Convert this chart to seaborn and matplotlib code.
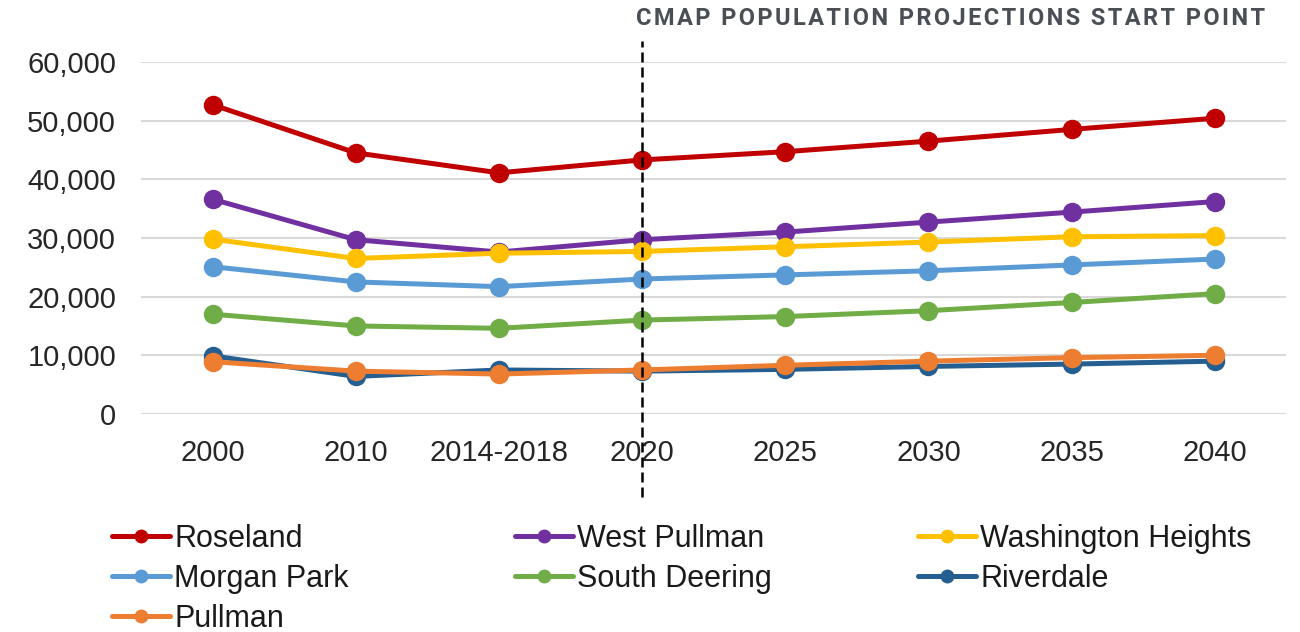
import pandas as pd
import matplotlib.pyplot as plt
import seaborn as sns

# Datos (población por área comunitaria)
years = ['2000', '2010', '2014-2018', '2020', '2025', '2030', '2035', '2040']
roseland = [52700, 44500, 41100, 43300, 44700, 46500, 48500, 50400]
west_pullman = [36600, 29700, 27600, 29700, 31000, 32700, 34400, 36200]
washington_heights = [29800, 26500, 27400, 27700, 28500, 29300, 30200, 30400]
morgan_park = [25100, 22500, 21700, 23000, 23700, 24400, 25400, 26400]
south_deering = [17000, 15000, 14600, 16000, 16600, 17600, 19000, 20500]
riverdale = [9900, 6400, 7500, 7300, 7600, 8100, 8500, 9000]
pullman = [8900, 7300, 6800, 7500, 8300, 9000, 9600, 10000]

areas = ['Roseland', 'West Pullman', 'Washington Heights', 'Morgan Park',
         'South Deering', 'Riverdale', 'Pullman']
series = [roseland, west_pullman, washington_heights, morgan_park,
          south_deering, riverdale, pullman]
colores = ['#C00000', '#7030A0', '#FFC000', '#5B9BD5', '#70AD47', '#255E91', '#ED7D31']

# Tabla larga para seaborn
df = pd.DataFrame({
    'Año': years * len(areas),
    'Población': [v for s in series for v in s],
    'Área': [a for a in areas for _ in years],
})

sns.set_style('white')
plt.rcParams['font.family'] = ['Liberation Sans', 'DejaVu Sans']

fig = plt.figure(figsize=(13, 6.32), dpi=100)
ax = fig.add_axes([0.1085, 0.345, 0.881, 0.557])

# Líneas horizontales de la cuadrícula
ax.yaxis.grid(True, color='#D9D9D9', linewidth=1.5)
ax.set_axisbelow(True)

sns.lineplot(data=df, x='Año', y='Población', hue='Área', hue_order=areas,
             palette=colores, marker='o', markersize=14, markeredgewidth=0,
             linewidth=3.6, sort=False, ax=ax, legend=False)

ax.set_xlim(-0.5, len(years) - 0.5)
ax.set_ylim(0, 60000)
ax.set_yticks(range(0, 60001, 10000))
ax.yaxis.set_major_formatter(plt.FuncFormatter(lambda v, p: f'{int(v):,}'))
ax.tick_params(axis='both', labelsize=21, labelcolor='#262626', length=0)
ax.tick_params(axis='x', pad=18)
ax.tick_params(axis='y', pad=18)
ax.set_xlabel('')
ax.set_ylabel('')
sns.despine(ax=ax, left=True, bottom=True)

# Línea punteada del inicio de las proyecciones
ax.axvline(x=years.index('2020'), ymin=-0.236, ymax=1.06, color='black',
           linestyle=(0, (4, 2)), linewidth=1.8, clip_on=False)
titulo = '\u200a'.join('CMAP POPULATION PROJECTIONS START POINT')
fig.text(0.973, 0.9715, titulo, ha='right', va='center',
         fontsize=17, fontweight='bold', color='#4A4F55',
         family=['Roboto', 'DejaVu Sans'])

# Leyenda: tres columnas de igual ancho, ordenada por filas
columnas = [[0, 3, 6], [1, 4], [2, 5]]
x_cols = [0.086, 0.396, 0.706]
for idx, x0 in zip(columnas, x_cols):
    handles = [plt.Line2D([], [], color=colores[i], linewidth=3.6, marker='o',
                          markersize=10, markeredgewidth=0) for i in idx]
    fig.legend(handles, [areas[i] for i in idx], loc='upper left',
               bbox_to_anchor=(x0, 0.171), frameon=False,
               prop={'family': ['Liberation Sans', 'DejaVu Sans'], 'size': 22},
               handlelength=1.9, handletextpad=0.15, labelspacing=0.33,
               borderaxespad=0, borderpad=0, labelcolor='#1A1A1A')

plt.savefig('out.png', dpi=100)
